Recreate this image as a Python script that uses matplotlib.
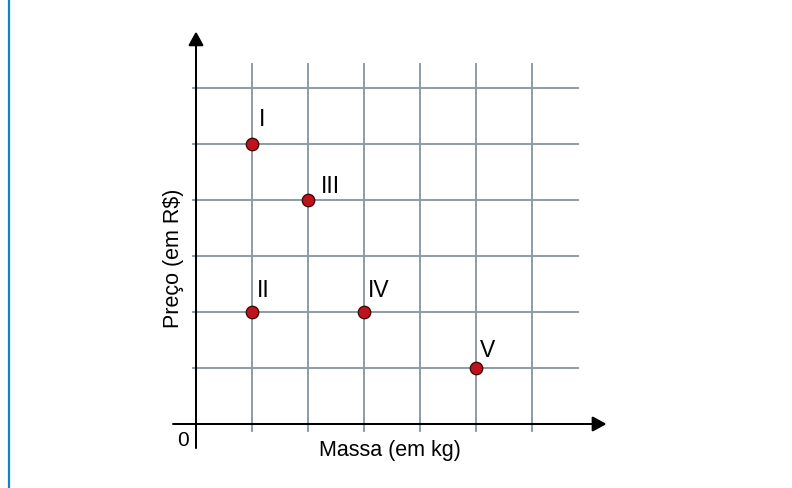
import matplotlib
matplotlib.use('Agg')
import matplotlib.pyplot as plt
from matplotlib.lines import Line2D

# data (grid units)
labels = ['I', 'II', 'III', 'IV', 'V']
massa = [1, 1, 2, 3, 5]
preco = [5, 2, 4, 2, 1]
grid_x = [1, 2, 3, 4, 5, 6]
grid_y = [1, 2, 3, 4, 5, 6]

plt.rcParams['font.family'] = ['Liberation Sans', 'DejaVu Sans']

fig = plt.figure(figsize=(7.92, 4.88), dpi=100)
ax = fig.add_axes([0, 0, 1, 1])
# origin at pixel (196, 424), 56 px per unit
unit = 56.0
ax.set_xlim(-196 / unit, (792 - 196) / unit)
ax.set_ylim((424 - 488) / unit, 424 / unit)
ax.axis('off')

grid_color = '#8d9ca6'
for gx in grid_x:
    ax.plot([gx, gx], [-0.125, 6.43], color=grid_color, lw=1.4, zorder=1)
for gy in grid_y:
    ax.plot([-0.05, 6.82], [gy, gy], color=grid_color, lw=1.4, zorder=1)

# axes with arrows
ax.arrow(-0.41, 0, 7.71, 0, head_width=0.24, head_length=0.22, length_includes_head=True,
         fc='black', ec='black', lw=1.2, zorder=3)
ax.arrow(0, -0.43, 0, 7.41, head_width=0.24, head_length=0.22, length_includes_head=True,
         fc='black', ec='black', lw=1.2, zorder=3)

ax.plot(massa, preco, 'o', ms=9, mfc='#c0121b', mec='#3a0505', mew=0.9, zorder=4)

offsets = {'I': (7, 18), 'II': (5, 15), 'III': (13, 7), 'IV': (4, 15), 'V': (4, 11)}
for lab, x, y in zip(labels, massa, preco):
    ax.annotate(lab, (x, y), xytext=offsets[lab], textcoords='offset pixels',
                ha='left', va='baseline', fontsize=16.5, zorder=5)

ax.text(-0.23, -0.29, '0', ha='center', va='center', fontsize=15)
ax.text(3.46, -0.48, 'Massa (em kg)', ha='center', va='center', fontsize=15.5)
ax.text(-0.41, 2.95, 'Preço (em R$)', ha='center', va='center', rotation=90, fontsize=15.5)

# blue margin line at the left
fig.add_artist(Line2D([9 / 792, 9 / 792], [0, 1], transform=fig.transFigure,
                      color='#0a86c8', lw=1.6))

fig.savefig('out.png', dpi=100)
